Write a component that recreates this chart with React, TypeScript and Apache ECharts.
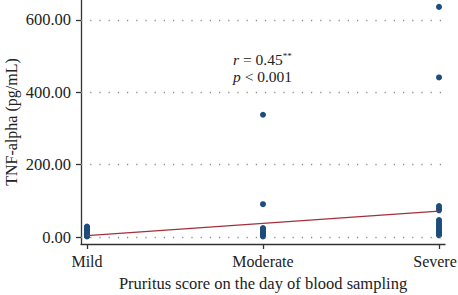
import React, { useEffect, useRef } from "react";
import * as echarts from "echarts";

const categories = ["Mild", "Moderate", "Severe"];
const mildValues = [2, 3, 4, 5, 6, 7, 8, 9, 10, 11, 12, 14, 15, 17, 19, 21, 23, 25, 27, 29];
const moderateValues = [338, 91, 2, 4, 6, 8, 10, 12, 14, 16, 18, 20, 22, 25];
const severeValues = [636, 441, 86, 80, 74, 47, 42, 37, 32, 28, 24, 20, 16, 12, 8, 5];
const trendValues = [4, 72]; // fitted line at Mild and Severe
const yTicks = [0, 200, 400, 600];

const FONT = "'Liberation Serif', 'Times New Roman', serif";

export default function App() {
  const ref = useRef<HTMLDivElement>(null);
  useEffect(() => {
    if (!ref.current) return;
    const chart = echarts.init(ref.current, null, { renderer: "svg" });
    const scatterData: number[][] = [];
    [mildValues, moderateValues, severeValues].forEach((arr, i) => {
      arr.forEach((v) => scatterData.push([i + 1, v]));
    });
    chart.setOption({
      animation: false,
      backgroundColor: "#ffffff",
      grid: { left: 81, right: 13, top: 0, bottom: 51, outerBoundsMode: "none", containLabel: false },
      xAxis: {
        type: "value",
        min: 0.966,
        max: 3.034,
        name: "Pruritus score on the day of blood sampling",
        nameLocation: "middle",
        nameGap: 31,
        nameTextStyle: { fontFamily: FONT, fontSize: 16.5, color: "#222" },
        splitLine: { show: false },
        axisLine: { show: true, onZero: false, lineStyle: { color: "#333", width: 1.3 } },
        axisTick: { show: true, length: 5, customValues: [1, 2, 3], lineStyle: { color: "#333", width: 1.3 } },
        axisLabel: {
          customValues: [1, 2, 3],
          formatter: (v: number) => {
            const i = Math.round(v) - 1;
            const name = categories[i] ?? "";
            return i === categories.length - 1 ? `{last|${name}}` : name;
          },
          rich: {
            last: { fontFamily: FONT, fontSize: 16, color: "#222", padding: [0, 8, 0, 0] },
          },
          fontFamily: FONT,
          fontSize: 16,
          color: "#222",
          margin: 9,
        },
      },
      yAxis: {
        type: "value",
        min: -19,
        max: 655,
        name: "TNF-alpha (pg/mL)",
        nameLocation: "middle",
        nameGap: 62,
        nameMoveOverlap: false,
        nameTextStyle: { fontFamily: FONT, fontSize: 16, color: "#222" },
        splitLine: { show: false },
        axisLine: { show: true, onZero: false, lineStyle: { color: "#333", width: 1.3 } },
        axisTick: { show: true, length: 5, customValues: yTicks, lineStyle: { color: "#333", width: 1.3 } },
        axisLabel: {
          customValues: yTicks,
          formatter: (v: number) => v.toFixed(2),
          fontFamily: FONT,
          fontSize: 16.5,
          color: "#222",
          margin: 10,
        },
      },
      series: [
        {
          type: "scatter",
          data: scatterData,
          symbolSize: 6,
          itemStyle: { color: "#1d4d7c", opacity: 1 },
          markLine: {
            silent: true,
            symbol: ["none", "none"],
            label: { show: false },
            lineStyle: { type: [1.2, 8], width: 1.4, color: "#8a8a8a" },
            data: yTicks.map((t) => ({ yAxis: t })),
          },
          z: 3,
        },
        {
          type: "line",
          data: [
            [1, trendValues[0]],
            [3, trendValues[1]],
          ],
          showSymbol: false,
          lineStyle: { color: "#a3303a", width: 1.2 },
          z: 4,
        },
      ],
      graphic: [
        {
          type: "text",
          left: 233,
          top: 51,
          style: {
            text: "{i|r} = 0.45{s|**}\n{i|p} < 0.001",
            fill: "#222",
            font: `15.5px ${FONT}`,
            lineHeight: 17,
            rich: {
              i: { fontStyle: "italic", fontFamily: FONT, fontSize: 15.5, lineHeight: 17, fill: "#222" },
              s: { fontFamily: FONT, fontSize: 9, lineHeight: 17, verticalAlign: "top", fill: "#222" },
            },
          },
        },
      ],
    });
    return () => chart.dispose();
  }, []);
  return (
    <div
      ref={ref}
      style={{ position: "fixed", left: 0, top: 0, width: 458, height: 295 }}
    />
  );
}
